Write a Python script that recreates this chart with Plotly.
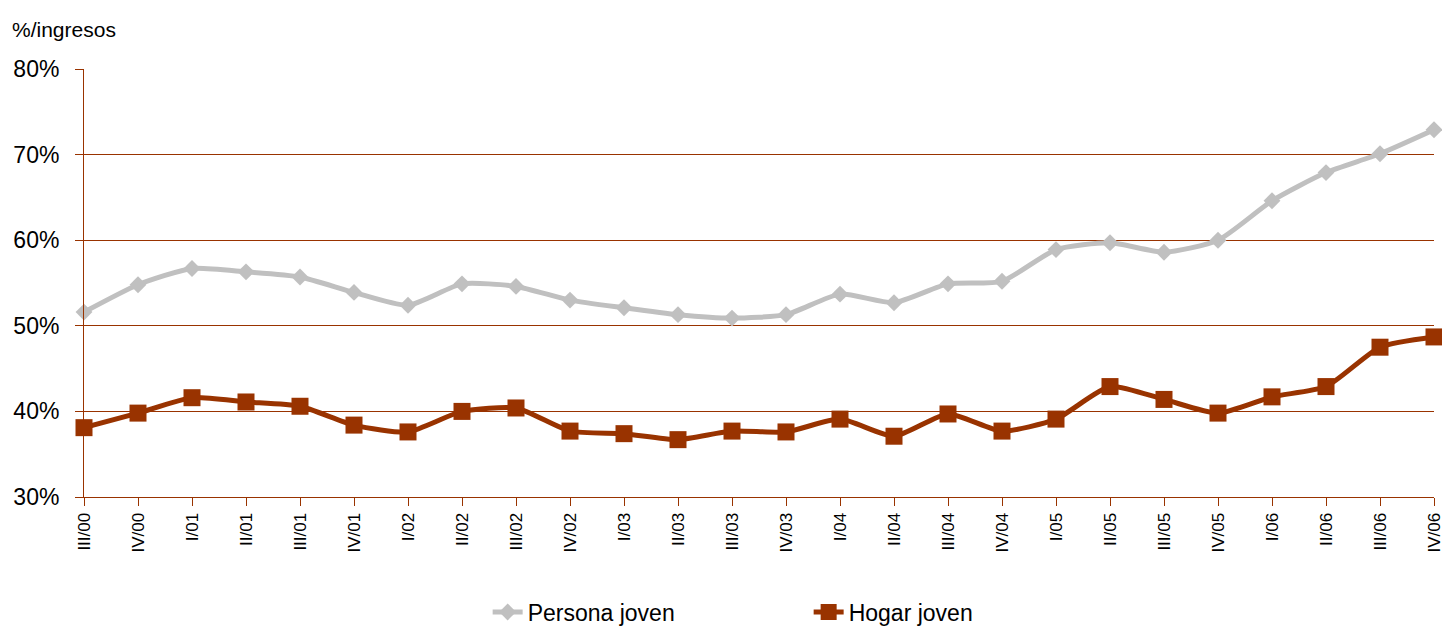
import plotly.graph_objects as go

trimestres = ["III/00", "IV/00", "I/01", "II/01", "III/01", "IV/01", "I/02", "II/02", "III/02",
              "IV/02", "I/03", "II/03", "III/03", "IV/03", "I/04", "II/04", "III/04", "IV/04",
              "I/05", "II/05", "III/05", "IV/05", "I/06", "II/06", "III/06", "IV/06"]

persona_joven = [51.6, 54.8, 56.7, 56.3, 55.7, 53.9, 52.4, 54.9, 54.6, 53.0, 52.1, 51.3, 50.9,
                 51.3, 53.7, 52.7, 54.9, 55.2, 58.9, 59.7, 58.6, 60.0, 64.6, 67.9, 70.1, 72.9]

hogar_joven = [38.1, 39.8, 41.6, 41.1, 40.6, 38.4, 37.6, 40.0, 40.4, 37.7, 37.4, 36.7, 37.7,
               37.6, 39.1, 37.1, 39.7, 37.7, 39.1, 42.9, 41.4, 39.8, 41.7, 42.9, 47.5, 48.7]

FONT = "Liberation Sans, Arial, sans-serif"
BROWN = "#993300"
GREY = "#C0C0C0"

x = list(range(len(trimestres)))

fig = go.Figure()
fig.add_trace(go.Scatter(
    x=x, y=persona_joven, name="Persona joven", mode="lines+markers",
    line=dict(color=GREY, width=5, shape="spline", smoothing=0.6),
    marker=dict(symbol="diamond", size=13, color=GREY),
    cliponaxis=False,
))
fig.add_trace(go.Scatter(
    x=x, y=hogar_joven, name="Hogar joven", mode="lines+markers",
    line=dict(color=BROWN, width=5, shape="spline", smoothing=0.6),
    marker=dict(symbol="square", size=17, color=BROWN),
    cliponaxis=False,
))

fig.update_layout(
    width=1442, height=630,
    margin=dict(l=84, r=8, t=69, b=133, autoexpand=False),
    plot_bgcolor="white", paper_bgcolor="white",
    font=dict(family=FONT, color="black"),
    showlegend=True,
    legend=dict(orientation="h", x=0.299, xanchor="left", yref="container",
                y=0.0286, yanchor="middle",
                font=dict(size=23, family=FONT), entrywidth=276),
)
fig.add_annotation(text="%/ingresos", xref="paper", yref="paper", x=-0.0548, y=1.061,
                   xanchor="left", yanchor="bottom", showarrow=False,
                   font=dict(size=21, family=FONT))

fig.update_xaxes(
    range=[0, 25], tickvals=x, ticktext=trimestres, tickangle=-90, automargin=False,
    ticklabeloverflow="allow",
    tickfont=dict(size=17, family=FONT), ticks="outside", ticklen=8, tickcolor=BROWN,
    showline=True, linecolor=BROWN, linewidth=1, showgrid=False, zeroline=False,
)
fig.update_yaxes(
    range=[30, 80], tickvals=[30, 40, 50, 60, 70, 80], automargin=False,
    ticktext=["30%", "40%", "50%", "60%", "70%", "80%"],
    tickfont=dict(size=23, family=FONT), ticks="outside", ticklen=8, tickcolor=BROWN,
    ticklabelstandoff=11,
    showline=True, linecolor=BROWN, linewidth=1,
    showgrid=True, gridcolor=BROWN, gridwidth=1, zeroline=False,
)

# drop the default 8px body margin so the figure fills the window exactly
fig.write_html("out.html", config={"displayModeBar": False},
               post_script="document.body.style.margin='0';")
